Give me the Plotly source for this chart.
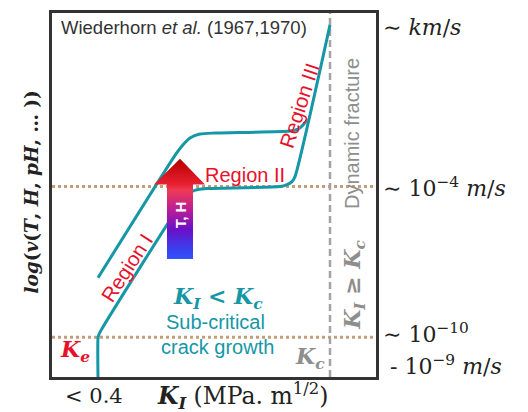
import plotly.graph_objects as go

# Schematic units (arbitrary): x ~ K_I, y ~ log(v)
lower_k = [46, 46, 47, 49, 134, 140, 146, 155, 228, 235, 240, 243, 278]
lower_v = [0, 39, 43, 47, 182, 187, 189, 190, 192, 194, 197, 202, 355]
upper_k = [46, 124, 130, 138, 148, 163, 238, 246, 251, 256]
upper_v = [100, 225, 233, 241, 245, 246, 248, 250, 254, 260]

v_level_high = 192   # ~1e-4 m/s
v_level_low = 40     # ~1e-10 - 1e-9 m/s
k_c = 278            # K_c

arrow_k = [115, 115, 102, 128, 153, 141, 141, 115]
arrow_v = [119, 194, 194, 220, 194, 194, 119, 119]

X_MAX, Y_MAX = 324, 367

TEAL = "#1597A6"
RED = "#E8112B"
GRAY = "#8E8E8E"
TAN = "#C49E78"
SERIF = "DejaVu Serif"
SANS = "Liberation Sans"

fig = go.Figure()

fig.add_trace(go.Scatter(x=[0, X_MAX], y=[v_level_high, v_level_high], mode="lines",
                         line=dict(color=TAN, width=3, dash="3px,3px"), hoverinfo="skip"))
fig.add_trace(go.Scatter(x=[0, X_MAX], y=[v_level_low, v_level_low], mode="lines",
                         line=dict(color=TAN, width=3, dash="3px,3px"), hoverinfo="skip"))
fig.add_trace(go.Scatter(x=[k_c, k_c], y=[0, Y_MAX], mode="lines",
                         line=dict(color="#A3A3A3", width=2.5, dash="7px,4px"), hoverinfo="skip"))

fig.add_trace(go.Scatter(x=lower_k, y=lower_v, mode="lines",
                         line=dict(color=TEAL, width=3, shape="spline", smoothing=0.6)))
fig.add_trace(go.Scatter(x=upper_k, y=upper_v, mode="lines",
                         line=dict(color=TEAL, width=3, shape="spline", smoothing=0.6)))

fig.add_trace(go.Scatter(
    x=arrow_k, y=arrow_v, mode="lines", fill="toself", line=dict(width=0),
    fillgradient=dict(type="vertical", start=119, stop=220,
                      colorscale=[[0, "#3358FF"], [0.12, "#3A40EE"], [0.31, "#6A10C8"],
                                  [0.5, "#B81C98"], [0.7, "#EE3A55"], [0.76, "#E82030"],
                                  [1, "#B80000"]]),
    hoverinfo="skip"))

ann = []
def A(x, y, text, size, color, family, angle=0, xanchor="center", yanchor="middle"):
    ann.append(dict(x=x / X_MAX, y=y / Y_MAX, xref="paper", yref="paper", text=text,
                    showarrow=False, textangle=angle, xanchor=xanchor, yanchor=yanchor,
                    font=dict(size=size, color=color, family=family)))

A(132, 352, "Wiederhorn <i>et al.</i> (1967,1970)", 18.5, "#333333", SANS)
A(75, 110, "Region I", 20.5, RED, SANS, angle=-57)
A(193, 204, "Region II", 20, RED, SANS)
A(247, 274, "Region III", 20.5, RED, SANS, angle=-72)
A(128, 163, "<b>T, H</b>", 15, "white", SANS, angle=-90)
A(166, 80, "<b><i>K<sub>I</sub></i> &lt; <i>K<sub>c</sub></i></b>", 22, TEAL, SERIF)
A(163, 55, "Sub-critical", 20, TEAL, SANS)
A(165, 30, "crack growth", 20, TEAL, SANS)
A(23, 26, "<b><i>K<sub>e</sub></i></b>", 22, RED, SERIF)
A(258, 19, "<b><i>K<sub>c</sub></i></b>", 22, GRAY, SERIF)
A(302, 93, "<b><i>K<sub>I</sub></i> ≥ <i>K<sub>c</sub></i></b>", 22, GRAY, SERIF, angle=-90)
A(300, 245, "Dynamic fracture", 20, GRAY, SANS, angle=-90)

# right-side velocity labels
A(329, 352, "∼ <i>km</i>/<i>s</i>", 22, "#222222", SERIF, xanchor="left")
A(329, 192, "∼ 10<sup>−4</sup> <i>m</i>/<i>s</i>", 22, "#222222", SERIF, xanchor="left")
A(329, 44, "∼ 10<sup>−10</sup>", 22, "#222222", SERIF, xanchor="left")
A(336, 12, "- 10<sup>−9</sup> <i>m</i>/<i>s</i>", 22, "#222222", SERIF, xanchor="left")

# axis labels
A(42, -19, "&lt; 0.4", 21, "#222222", SERIF)
A(190, -19, "<b><i>K<sub>I</sub></i></b> (MPa. m<sup>1/2</sup>)", 23.5, "#222222", SERIF)
A(-20, 186, "<b><i>log</i>(<i>v</i>(<i>T</i>, <i>H</i>, <i>pH</i>, … ))</b>", 18.5, "#222222", SERIF, angle=-90)

fig.update_layout(
    width=528, height=412,
    margin=dict(l=52, r=152, t=10, b=35),
    paper_bgcolor="white", plot_bgcolor="white",
    showlegend=False,
    annotations=ann,
    xaxis=dict(range=[0, X_MAX], showgrid=False, zeroline=False, showticklabels=False,
               ticks="", showline=True, mirror=True, linecolor="#333333", linewidth=2.5),
    yaxis=dict(range=[0, Y_MAX], showgrid=False, zeroline=False, showticklabels=False,
               ticks="", showline=True, mirror=True, linecolor="#333333", linewidth=2.5),
)

fig.write_html("out.html", config={"displayModeBar": False},
               post_script="document.body.style.margin='0';")
